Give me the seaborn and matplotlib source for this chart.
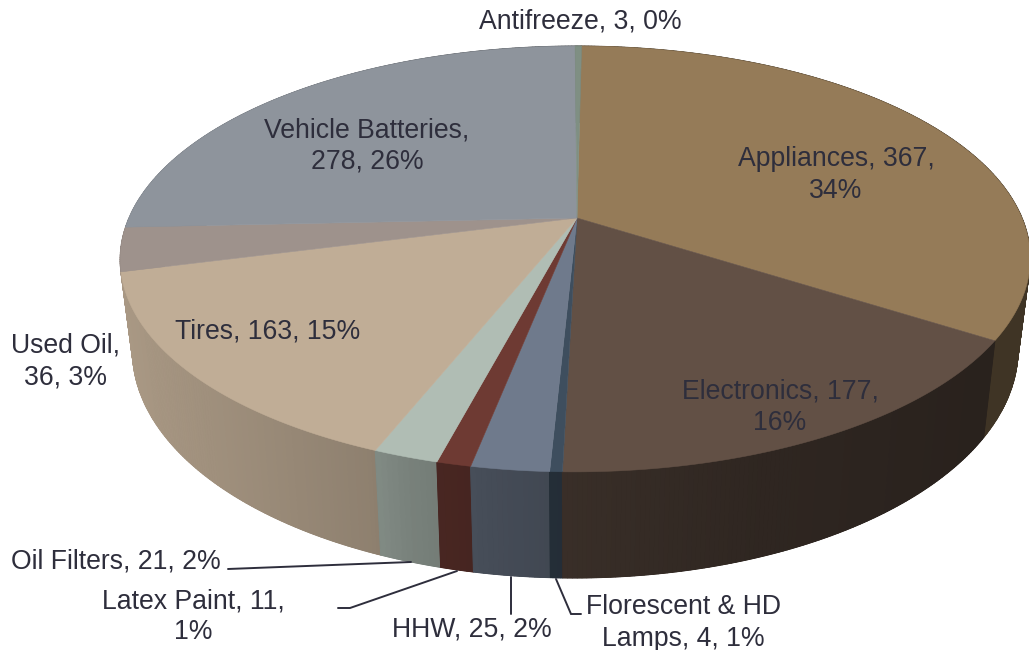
import numpy as np
import matplotlib
matplotlib.use("Agg")
import matplotlib.pyplot as plt
import seaborn as sns

categories = ["Appliances", "Electronics", "Florescent & HD Lamps", "HHW", "Latex Paint",
              "Oil Filters", "Tires", "Used Oil", "Vehicle Batteries", "Antifreeze"]
values = [367, 177, 4, 25, 11, 21, 163, 36, 278, 3]
top_colors = ["#957b58", "#625045", "#3e4e5e", "#6f7a8c", "#6e3a33",
              "#b0bdb4", "#c0ad96", "#9e928c", "#8e949c", "#7f8f83"]
labels = ["Appliances, 367,\n34%", "Electronics, 177,\n16%", "Florescent & HD\nLamps, 4, 1%",
          "HHW, 25, 2%", "Latex Paint, 11,\n1%", "Oil Filters, 21, 2%", "Tires, 163, 15%",
          "Used Oil,\n36, 3%", "Vehicle Batteries,\n278, 26%", "Antifreeze, 3, 0%"]
label_x = [836, 780, 683, 472, 193, 116, 268, 65.5, 367, 580]
label_y = [175, 407, 623, 630, 616.5, 562, 331, 361.5, 146, 22]
leader_x = [[228, 411], [338, 350, 457], [511, 511], [556, 571, 581]]
leader_y = [[569, 562], [608, 608, 571], [577, 614], [579, 614, 614]]

# Projection of the tilted, perspective-viewed pie
CX, CY, A, B, K, START, SKEW = 577, 218, 446.5, 205, 0.1925, 0.7, 1.5
SX, DROP, DM = 0.973, 88.3, 0.07
shade_x = [120, 370, 410, 510, 563, 760, 980, 1030]
shade_f = [0.88, 0.74, 0.68, 0.61, 0.58, 0.48, 0.42, 0.42]

def top_rim(deg):
    t = np.radians(deg + START)
    u, v = np.sin(t), np.cos(t)
    w = 1 + K * v
    return CX + A * u / w - SKEW * (1 - v), CY - B * v / w

def bottom_rim(deg):
    x, y = top_rim(deg)
    return CX + SX * (x - CX), y + DROP + DM * (y - CY)

sns.set_theme(style="white")
plt.rcParams["font.family"] = ["Liberation Sans", "DejaVu Sans"]
palette = sns.color_palette(top_colors)
text_color = "#2e2e3c"

fig = plt.figure(figsize=(10.29, 6.5), dpi=100)
ax = fig.add_axes([0, 0, 1, 1])
ax.set_xlim(0, 1029)
ax.set_ylim(650, 0)
ax.axis("off")

edges = np.concatenate([[0], np.cumsum(values)]) / sum(values) * 360

# side walls: one underlay per slice, back to front, then gradient strips on it
def lowest(i):
    return bottom_rim(np.linspace(edges[i], edges[i + 1], 40))[1].max()

for i in sorted(range(len(values)), key=lowest):
    grid = np.linspace(edges[i], edges[i + 1], max(6, int(edges[i + 1] - edges[i]) * 2))
    xt, yt = top_rim(grid)
    xb, yb = bottom_rim(grid)
    mid = np.interp(xt.mean(), shade_x, shade_f)
    ax.fill(np.r_[xt, xb[::-1]], np.r_[yt, yb[::-1]],
            color=tuple(c * mid for c in palette[i]), lw=0.5, zorder=2)
    for a0, a1 in zip(grid[:-1], grid[1:]):
        x0, y0 = top_rim(a0); x1, y1 = top_rim(a1)
        x2, y2 = bottom_rim(a1); x3, y3 = bottom_rim(a0)
        f = np.interp((x0 + x1) / 2, shade_x, shade_f)
        ax.fill([x0, x1, x2, x3], [y0, y1, y2, y3], facecolor=tuple(c * f for c in palette[i]),
                edgecolor=tuple(c * f for c in palette[i]), lw=0.8, zorder=2)

# top face
for i in range(len(values)):
    grid = np.linspace(edges[i], edges[i + 1], max(4, int(edges[i + 1] - edges[i]) * 2))
    xs, ys = top_rim(grid)
    ax.fill(np.r_[CX, xs], np.r_[CY, ys], color=palette[i], lw=0.4, zorder=3)

for lx, ly in zip(leader_x, leader_y):
    ax.plot(lx, ly, color=text_color, lw=1.4, zorder=4, solid_joinstyle="miter")

for s, x, y in zip(labels, label_x, label_y):
    ax.text(x, y, s, ha="center", va="center", fontsize=19.2, color=text_color,
            linespacing=1.25, zorder=5)

fig.savefig("out.png", dpi=100)
